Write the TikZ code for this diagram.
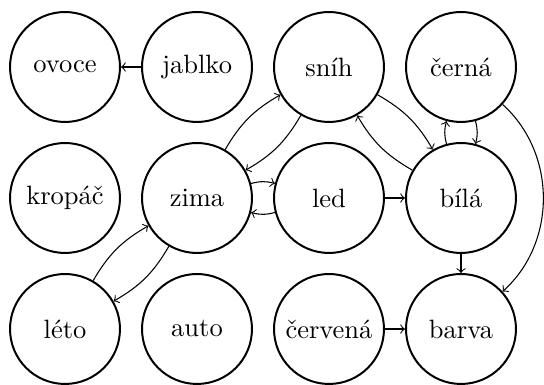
\documentclass[tikz,border=0pt]{standalone}
\usepackage{fontspec}
\begin{document}
\begin{tikzpicture}[x=0.3774pt,y=-0.3774pt,
  word/.style={circle,draw,line width=0.75pt,minimum size=41.5pt,inner sep=0pt,font=\fontsize{10}{12}\selectfont},
  link/.style={->,line width=0.4pt}]
\useasboundingbox (0,0) rectangle (544,385);
\node[word] (ovoce) at (65,67) {ovoce};
\node[word] (jablko) at (197,67) {jablko};
\node[word] (snih) at (329,67) {sníh};
\node[word] (cerna) at (461,67) {černá};
\node[word] (kropac) at (65,198) {kropáč};
\node[word] (zima) at (197,198) {zima};
\node[word] (led) at (329,198) {led};
\node[word] (bila) at (461,198) {bílá};
\node[word] (leto) at (65,329) {léto};
\node[word] (auto) at (197,329) {auto};
\node[word] (cervena) at (329,329) {červená};
\node[word] (barva) at (461,329) {barva};
\draw[link] (jablko) -- (ovoce);
\draw[link] (zima) to[bend left=15] (snih);
\draw[link] (snih) to[bend left=15] (zima);
\draw[link] (zima) to[bend left=15] (led);
\draw[link] (led) to[bend left=15] (zima);
\draw[link] (leto) to[bend left=15] (zima);
\draw[link] (zima) to[bend left=15] (leto);
\draw[link] (led) -- (bila);
\draw[link] (snih) to[bend left=15] (bila);
\draw[link] (bila) to[bend left=15] (snih);
\draw[link] (bila) to[bend left=15] (cerna);
\draw[link] (cerna) to[bend left=15] (bila);
\draw[link] (bila) -- (barva);
\draw[link] (cerna) to[bend left=48] (barva);
\draw[link] (cervena) -- (barva);
\end{tikzpicture}
\end{document}
